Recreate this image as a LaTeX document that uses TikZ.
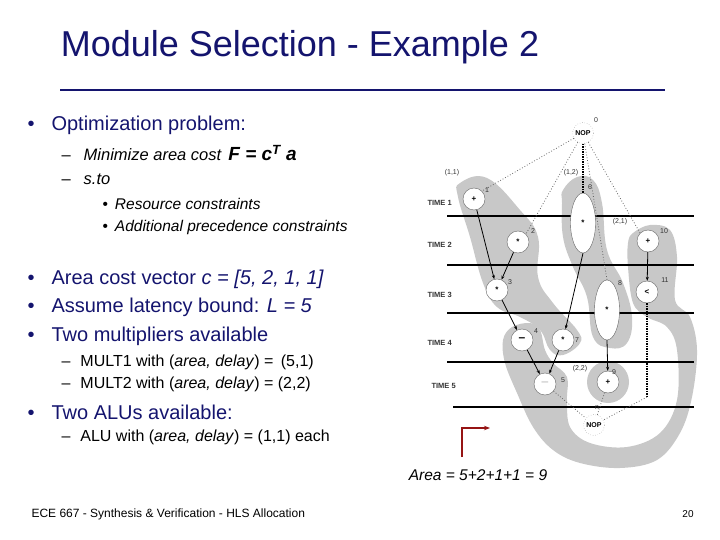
\documentclass[tikz,border=0pt]{standalone}
\usepackage{fontspec}
\setmainfont{Liberation Sans}
\usetikzlibrary{arrows.meta,shapes.geometric}
\definecolor{navy}{RGB}{20,20,110}
\definecolor{blob}{RGB}{200,200,200}
\definecolor{dred}{RGB}{150,20,20}
\tikzset{
 opn/.style={circle,draw=black!60,fill=white,minimum size=22pt,inner sep=0pt,font=\fontsize{8}{8}\selectfont\bfseries},
 nopn/.style={circle,draw=black!50,dotted,fill=white,minimum size=21pt,inner sep=0pt,font=\fontsize{7}{7}\selectfont\bfseries},
 ell/.style={ellipse,draw=black!60,fill=white,minimum width=25pt,minimum height=60pt,inner sep=0pt,font=\fontsize{8}{8}\selectfont\bfseries},
 tl/.style={anchor=west,font=\fontsize{7.5}{8}\selectfont\bfseries,text=black!80},
 num/.style={font=\fontsize{7}{7}\selectfont,text=black!80},
 tline/.style={line width=2.2pt},
 arr/.style={-{Stealth[length=4pt]},thick},
 dot/.style={dotted,thick,black!60},
 txt/.style={anchor=west,font=\fontsize{20}{22}\selectfont,text=navy},
 sub/.style={anchor=west,font=\fontsize{16.5}{18}\selectfont,text=black},
 subb/.style={anchor=west,font=\fontsize{15.5}{17}\selectfont,text=black},
 sub2/.style={anchor=west,font=\fontsize{16}{18}\selectfont,text=black},
}
\begin{document}
\begin{tikzpicture}[x=1pt,y=-1pt]
\useasboundingbox (0,0) rectangle (720,540);
% title
\node[font=\fontsize{36}{38}\selectfont,text=navy] (title) at (300,47) {Module Selection - Example 2};
\draw[navy,line width=2.5pt] (60,90) -- (665,90);
% text
\node[txt] (b1) at (24,125) {•\hspace{17pt}Optimization problem:};
\node[sub] (s1) at (58,153) {–\hspace{13pt}\textit{Minimize area cost} \hspace{2pt}{\fontsize{19}{20}\selectfont\textbf{\textit{F = c\textsuperscript{T} a}}}};
\node[sub] (s2) at (58,179) {–\hspace{13pt}\textit{s.to}};
\node[subb] (s3) at (99,204) {•\hspace{7pt}\textit{Resource constraints}};
\node[subb] (s4) at (99,227) {•\hspace{7pt}\textit{Additional precedence constraints}};
\node[txt] (b2) at (24,279) {•\hspace{17pt}Area cost vector \textit{c = [5, 2, 1, 1]}};
\node[txt] (b3) at (24,307) {•\hspace{17pt}Assume latency bound: \textit{L = 5}};
\node[txt] (b4) at (24,336) {•\hspace{17pt}Two multipliers available};
\node[sub2] (m1) at (58,362) {–\hspace{10pt}MULT1 with (\textit{area, delay}) = \hspace{3pt}(5,1)};
\node[sub2] (m2) at (58,384) {–\hspace{10pt}MULT2 with (\textit{area, delay}) = (2,2)};
\node[txt] (b5) at (24,412) {•\hspace{17pt}Two ALUs available:};
\node[sub2] (a1) at (58,437) {–\hspace{10pt}ALU with (\textit{area, delay}) = (1,1) each};
\node[font=\fontsize{15.5}{17}\selectfont\itshape] (area) at (478,475) {Area = 5+2+1+1 = 9};
\node[anchor=west,font=\fontsize{12}{14}\selectfont] (foot) at (28,514) {ECE 667 - Synthesis \& Verification - HLS Allocation};
\node[font=\fontsize{10}{12}\selectfont] (pg) at (688,514) {20};
% red arrow
\coordinate (ra) at (462,457); \coordinate (rb) at (462,428); \coordinate (rc) at (490,428);
\draw[dred,line width=2.5pt,-{Stealth[length=6pt]}] (ra) -- (rb) -- (rc);
% blobs
\fill[blob] plot[smooth cycle,tension=0.7] coordinates {(460,183) (487,178) (520,210) (538,237) (538,277) (553,303) (577,330) (580,343) (563,355) (550,350) (540,330) (520,317) (497,307) (483,283) (470,237) (458,197)};
\fill[blob] plot[smooth cycle,tension=0.7] coordinates {(563,190) (577,177) (593,180) (602,203) (607,250) (623,283) (632,317) (627,343) (610,348) (593,337) (587,297) (573,267) (563,237) (562,203)};
\fill[blob] plot[smooth cycle,tension=0.6] coordinates {(633,233) (650,225) (670,230) (677,257) (675,300) (690,317) (697,350) (692,397) (680,433) (657,460) (620,468) (580,463) (553,450) (533,427) (517,393) (505,363) (503,340) (512,327) (530,323) (540,330) (545,350) (553,363) (567,377) (567,400) (570,427) (590,443) (627,447) (660,433) (677,400) (677,350) (667,327) (647,317) (633,303) (628,267) (628,243)};
\fill[blob] (608,382) circle (21);
% time lines
\draw[tline] (447,216) -- (694,216);
\draw[tline] (447,265) -- (694,265);
\draw[line width=1.5pt] (447,313) -- (694,313);
\draw[tline] (447,362) -- (694,362);
\draw[tline] (453,407) -- (694,407);
\node[tl] (t1) at (424,203) {TIME 1};
\node[tl] (t2) at (424,245) {TIME 2};
\node[tl] (t3) at (424,295) {TIME 3};
\node[tl] (t4) at (424,343) {TIME 4};
\node[tl] (t5) at (428,386) {TIME 5};
% nodes
\node[nopn] (n0) at (583,133) {NOP};
\node[opn] (n1) at (474,199) {+};
\node[opn] (n2) at (518,242) {*};
\node[opn] (n3) at (497,290) {*};
\node[opn,font=\fontsize{12}{12}\selectfont\bfseries] (n4) at (522,340) {–};
\node[opn,font=\fontsize{12}{12}\selectfont\color{black!30}] (n5) at (545,384) {–};
\node[ell] (n6) at (583,223) {*};
\node[opn] (n7) at (563,340) {*};
\node[ell] (n8) at (607,310) {*};
\node[opn] (n9) at (608,382) {+};
\node[opn] (n10) at (648,241) {+};
\node[opn] (n11) at (647,292) {<};
\node[nopn] (nn) at (594,425) {NOP};
\coordinate (c11) at (647,397);
% edges
\draw[dot] (n0) -- (n1.north east);
\draw[dot] (n0) -- (n2.north east);
\draw[dot] (n0) -- (n8.north);
\draw[dot] (n0) -- (n10.north west);
\draw[line width=2pt,dash pattern=on 1.5pt off 1pt] (n0) -- (n6.north);
\draw[arr] (n1) -- (n3);
\draw[arr] (n2) -- (n3);
\draw[arr] (n3) -- (n4);
\draw[arr] (n6.south) -- (n7);
\draw[arr] (n4) -- (n5);
\draw[arr] (n7) -- (n5);
\draw[arr] (n8.south) -- (n9);
\draw[arr] (n10) -- (n11);
\draw[line width=2pt,dash pattern=on 1.5pt off 1pt] (n11) -- (c11);
\draw[dot] (c11) -- (nn);
\draw[dot] (n9) -- (nn);
\draw[dot] (n5) -- (nn);
% labels
\node[num] (l0) at (596,120) {0};
\node[num] (l1) at (487,190) {1};
\node[num] (l2) at (533,231) {2};
\node[num] (l3) at (510,282) {3};
\node[num] (l4) at (536,331) {4};
\node[num] (l5) at (563,380) {5};
\node[num] (l6) at (590,187) {6};
\node[num] (l7) at (577,340) {7};
\node[num] (l8) at (620,283) {8};
\node[num] (l9) at (614,372) {9};
\node[num] (l10) at (664,231) {10};
\node[num] (l11) at (665,280) {11};
\node[num] (ln) at (597,408) {n};
\node[num] (g11) at (452,173) {(1,1)};
\node[num] (g12) at (571,173) {(1,2)};
\node[num] (g21) at (620,222) {(2,1)};
\node[num] (g22) at (580,369) {(2,2)};
\end{tikzpicture}
\end{document}
